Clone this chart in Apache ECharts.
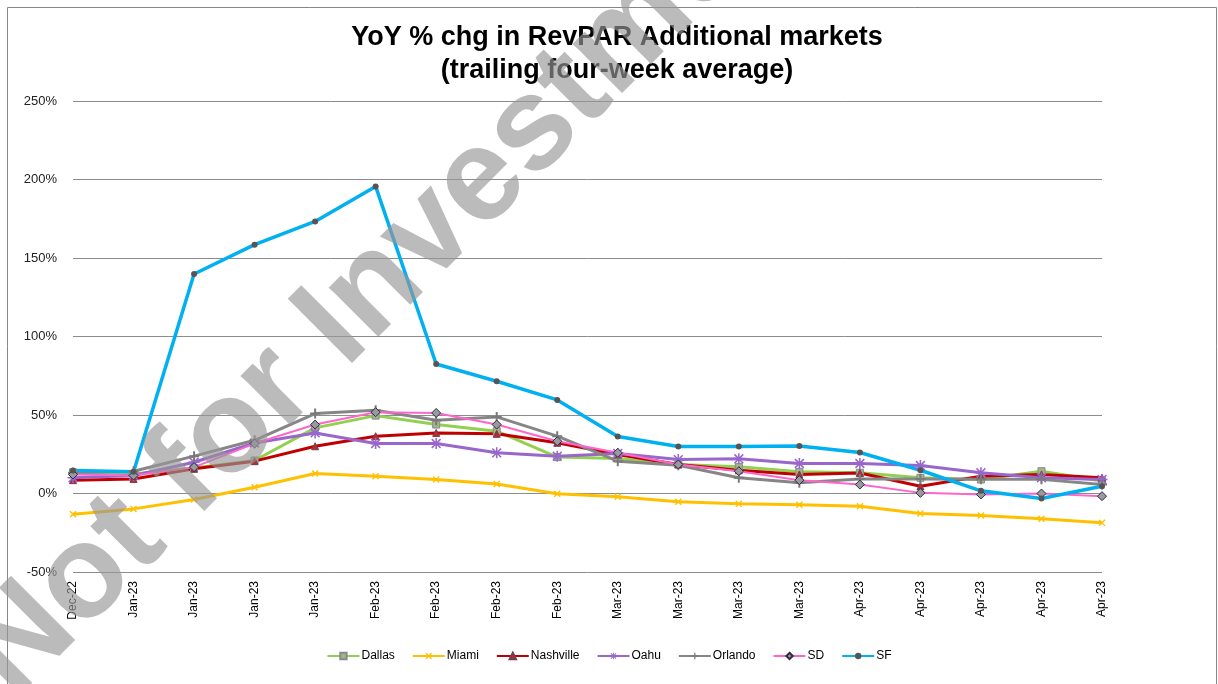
<!DOCTYPE html>
<html>
<head>
<meta charset="utf-8">
<title>YoY % chg in RevPAR Additional markets</title>
<script src="https://cdn.jsdelivr.net/npm/echarts@6/dist/echarts.min.js"></script>
<style>
  html, body { margin: 0; padding: 0; background: #fff; }
  #chart { width: 1218px; height: 684px; }
</style>
</head>
<body>
<div id="chart"></div>
<script>
// categories (weekly points, labelled by month)
const weeks = ['Dec-22', 'Jan-23', 'Jan-23', 'Jan-23', 'Jan-23', 'Feb-23', 'Feb-23', 'Feb-23', 'Feb-23',
  'Mar-23', 'Mar-23', 'Mar-23', 'Mar-23', 'Apr-23', 'Apr-23', 'Apr-23', 'Apr-23', 'Apr-23']

// YoY % change values
const dallas = [13.5, 12.5, 16.3, 21.0, 41.8, 49.6, 43.9, 39.7, 23.2, 22.3, 18.5, 17.0, 13.8, 13.2, 10.0, 8.9, 14.2, 8.0]
const miami = [-13.2, -9.8, -3.8, 4.0, 12.7, 11.0, 8.9, 6.0, -0.2, -2.1, -5.3, -6.6, -7.2, -8.1, -12.7, -14.0, -16.1, -18.7]
const nashville = [8.5, 9.3, 15.7, 20.6, 30.1, 36.5, 38.6, 38.0, 32.3, 24.8, 18.5, 14.8, 12.1, 13.0, 4.6, 11.0, 12.1, 10.0]
const oahu = [10.0, 11.5, 19.9, 32.2, 38.6, 31.8, 31.8, 25.9, 23.8, 25.5, 21.6, 22.1, 19.1, 19.1, 17.8, 13.2, 10.0, 8.9]
const orlando = [13.2, 14.2, 23.8, 33.9, 50.9, 53.0, 46.7, 48.8, 36.5, 20.6, 18.0, 10.0, 6.8, 9.3, 9.3, 9.0, 9.0, 5.7]
const sd = [12.1, 11.5, 16.8, 31.8, 43.9, 51.8, 51.3, 43.9, 33.3, 25.9, 18.5, 14.2, 8.5, 5.7, 0.4, -0.6, 0.0, -1.7]
const sf = [14.6, 13.8, 139.8, 158.5, 173.3, 195.6, 82.5, 71.5, 59.6, 36.3, 29.9, 29.9, 30.3, 26.1, 14.8, 1.7, -3.2, 4.6]

// marker shapes
const plusPath = 'path://M4,0H6V10H4ZM0,4H10V6H0Z'
const crossPath = 'path://M0,1.4L1.4,0L10,8.6L8.6,10ZM8.6,0L10,1.4L1.4,10L0,8.6Z'
const starPath = 'path://M4.3,0H5.7V10H4.3ZM0,4.3H10V5.7H0ZM0.5,1.5L1.5,0.5L9.5,8.5L8.5,9.5ZM8.5,0.5L9.5,1.5L1.5,9.5L0.5,8.5Z'

const chart = echarts.init(document.getElementById('chart'))

function line(name, data, color, width, symbol, size, markColor, border) {
  return {
    name: name,
    type: 'line',
    data: data,
    symbol: symbol,
    symbolSize: size,
    showAllSymbol: true,
    lineStyle: { color: color, width: width },
    itemStyle: { color: markColor || color, borderColor: border || markColor || color, borderWidth: border ? 1 : 0 },
    emphasis: { disabled: true },
  }
}

const option = {
  animation: false,
  backgroundColor: '#fff',
  title: {
    text: 'YoY % chg in RevPAR Additional markets\n(trailing four-week average)',
    left: 612,
    top: 16,
    textAlign: 'center',
    textStyle: {
      fontFamily: 'Liberation Sans, Arial, sans-serif',
      fontSize: 27,
      fontWeight: 'bold',
      color: '#000',
      lineHeight: 33,
    },
  },
  legend: {
    bottom: 17,
    left: 'center',
    itemWidth: 32,
    itemHeight: 8,
    itemGap: 17,
    textStyle: { fontFamily: 'Liberation Sans, Arial, sans-serif', fontSize: 12, color: '#000', padding: [0, 0, 0, -3] },
    data: ['Dallas', 'Miami', 'Nashville', 'Oahu', 'Orlando', 'SD', 'SF'],
  },
  grid: { left: 73, right: 116, top: 101, bottom: 112 },
  xAxis: {
    type: 'category',
    data: weeks,
    boundaryGap: false,
    axisLine: { show: false },
    axisTick: { show: false },
    axisLabel: {
      rotate: 90,
      interval: 0,
      margin: 9,
      fontFamily: 'Liberation Sans, Arial, sans-serif',
      fontSize: 12,
      color: '#000',
    },
  },
  yAxis: {
    type: 'value',
    min: -50,
    max: 250,
    interval: 50,
    axisLine: { show: false },
    axisTick: { show: false },
    splitLine: { lineStyle: { color: '#8c8c8c', width: 1 } },
    axisLabel: {
      formatter: '{value}%',
      margin: 16,
      fontFamily: 'Liberation Sans, Arial, sans-serif',
      fontSize: 13,
      color: '#222',
    },
  },
  series: [
    line('Dallas', dallas, '#92D050', 3, 'rect', 7, '#a3b48a', '#8a8a8a'),
    line('Miami', miami, '#FFC000', 3, crossPath, 7),
    line('Nashville', nashville, '#C00000', 3, 'triangle', 7, '#b03030', '#7a3a50'),
    line('Oahu', oahu, '#9966CC', 3, starPath, 11),
    line('Orlando', orlando, '#868686', 3, plusPath, 10, '#7a7a7a'),
    line('SD', sd, '#FF66CC', 2, 'diamond', 9, '#9a9a9a', '#2b2b4a'),
    line('SF', sf, '#00B0F0', 3.5, 'circle', 6, '#555'),
  ],
  graphic: [
    // chart frame
    {
      type: 'rect',
      shape: { x: 7.5, y: 7.5, width: 1209, height: 700 },
      style: { fill: 'none', stroke: '#868686', lineWidth: 1 },
      silent: true,
    },
    // diagonal watermark
    {
      type: 'text',
      x: 35,
      y: 722,
      rotation: Math.PI / 4,
      z: 100,
      silent: true,
      style: {
        text: 'Not for Investment',
        fontFamily: 'Liberation Sans, Arial, sans-serif',
        fontSize: 132,
        fontWeight: 'bold',
        fill: 'rgba(150,150,150,0.65)',
        textAlign: 'left',
        textVerticalAlign: 'bottom',
      },
    },
  ],
}

chart.setOption(option)
</script>
</body>
</html>
